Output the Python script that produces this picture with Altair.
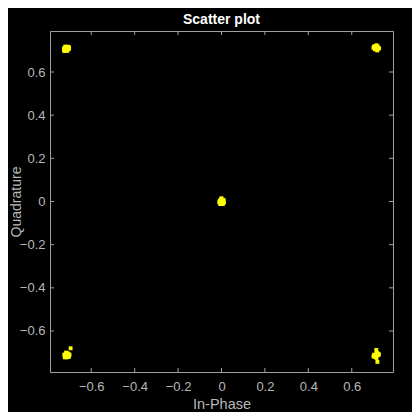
import altair as alt
import pandas as pd

# In-phase / quadrature samples (5 clusters)
i_vals = [
    -0.722, -0.718, -0.712, -0.708, -0.715, -0.720, -0.725, -0.705, -0.702, -0.710, -0.716, -0.726, -0.719, -0.711, -0.704, -0.723,
    0.705, 0.710, 0.715, 0.720, 0.712, 0.707, 0.716, 0.722, 0.700, 0.714, 0.718, 0.709, 0.726, 0.712, 0.703, 0.719,
    -0.005, 0.000, 0.005, 0.008, 0.003, -0.004, -0.008, 0.000, 0.006, -0.010, 0.010, 0.002, -0.003, 0.006, -0.006, 0.011,
    -0.720, -0.715, -0.710, -0.705, -0.712, -0.718, -0.722, -0.706, -0.700, -0.716, -0.724, -0.709, -0.713, -0.703, -0.695, -0.719,
    0.705, 0.710, 0.715, 0.720, 0.712, 0.722, 0.708, 0.717, 0.703, 0.725, 0.714, 0.700, 0.713, 0.718, 0.711,
]
q_vals = [
    0.705, 0.700, 0.703, 0.710, 0.712, 0.714, 0.710, 0.717, 0.712, 0.698, 0.706, 0.702, 0.718, 0.716, 0.706, 0.697,
    0.715, 0.720, 0.716, 0.712, 0.708, 0.705, 0.704, 0.708, 0.712, 0.724, 0.700, 0.712, 0.710, 0.716, 0.719, 0.719,
    0.000, 0.005, 0.008, 0.000, -0.006, -0.008, 0.004, 0.015, -0.012, -0.003, 0.006, -0.002, 0.010, 0.002, -0.012, -0.005,
    -0.715, -0.708, -0.712, -0.706, -0.718, -0.705, -0.722, -0.716, -0.710, -0.700, -0.710, -0.703, -0.722, -0.720, -0.680, -0.712,
    -0.715, -0.708, -0.712, -0.705, -0.718, -0.712, -0.720, -0.702, -0.710, -0.708, -0.725, -0.718, -0.688, -0.743, -0.713,
]
tick_values = [-0.6, -0.4, -0.2, 0.0, 0.2, 0.4, 0.6]

W, H = 343, 341
LIM = 0.79
TL = 4
FRAME = "#a0a0a0"
TEXT = "#b8b8b8"

pts = pd.DataFrame({"I": i_vals, "Q": q_vals})
ticks = pd.DataFrame({"t": tick_values})

xs = alt.Scale(domain=[-LIM, LIM], nice=False, zero=False)
ys = alt.Scale(domain=[-LIM, LIM], nice=False, zero=False)

label_expr = "datum.value == 0 ? '0' : format(datum.value, '.1f')"

points = alt.Chart(pts).mark_square(size=15, color="#ffff00", opacity=1).encode(
    x=alt.X("I:Q", scale=xs, title="In-Phase",
            axis=alt.Axis(values=tick_values, labelExpr=label_expr, titlePadding=4, labelPadding=8)),
    y=alt.Y("Q:Q", scale=ys, title="Quadrature",
            axis=alt.Axis(values=tick_values, labelExpr=label_expr, labelPadding=5,
                          titleFontSize=14, titleX=-27, titleY=H / 2, titleAngle=270,
                          titleBaseline="bottom", titleAlign="center")),
)

base_t = alt.Chart(ticks)
rule = dict(color=FRAME, strokeWidth=1)
bottom = base_t.mark_rule(**rule).encode(x=alt.X("t:Q", scale=xs), y=alt.value(H), y2=alt.value(H - TL))
top = base_t.mark_rule(**rule).encode(x=alt.X("t:Q", scale=xs), y=alt.value(0), y2=alt.value(TL))
left = base_t.mark_rule(**rule).encode(y=alt.Y("t:Q", scale=ys), x=alt.value(0), x2=alt.value(TL))
right = base_t.mark_rule(**rule).encode(y=alt.Y("t:Q", scale=ys), x=alt.value(W), x2=alt.value(W - TL))

chart = alt.layer(bottom, top, left, right, points).properties(
    width=W, height=H,
    title=alt.TitleParams("Scatter plot", color="white", fontSize=14, fontWeight="bold",
                          font="Liberation Sans", anchor="middle", offset=4),
    background="black",
    autosize=alt.AutoSizeParams(type="none"),
    padding={"left": 42, "top": 23, "right": 19, "bottom": 40},
).configure_view(stroke=FRAME, strokeWidth=1, fill="black").configure_axis(
    grid=False, ticks=False, domain=False,
    labelColor=TEXT, titleColor=TEXT, labelFont="Liberation Sans", titleFont="Liberation Sans",
    labelFontSize=13, titleFontSize=14.5, titleFontWeight="normal",
)

chart.save("out.html", embed_options={"renderer": "svg", "actions": False})
